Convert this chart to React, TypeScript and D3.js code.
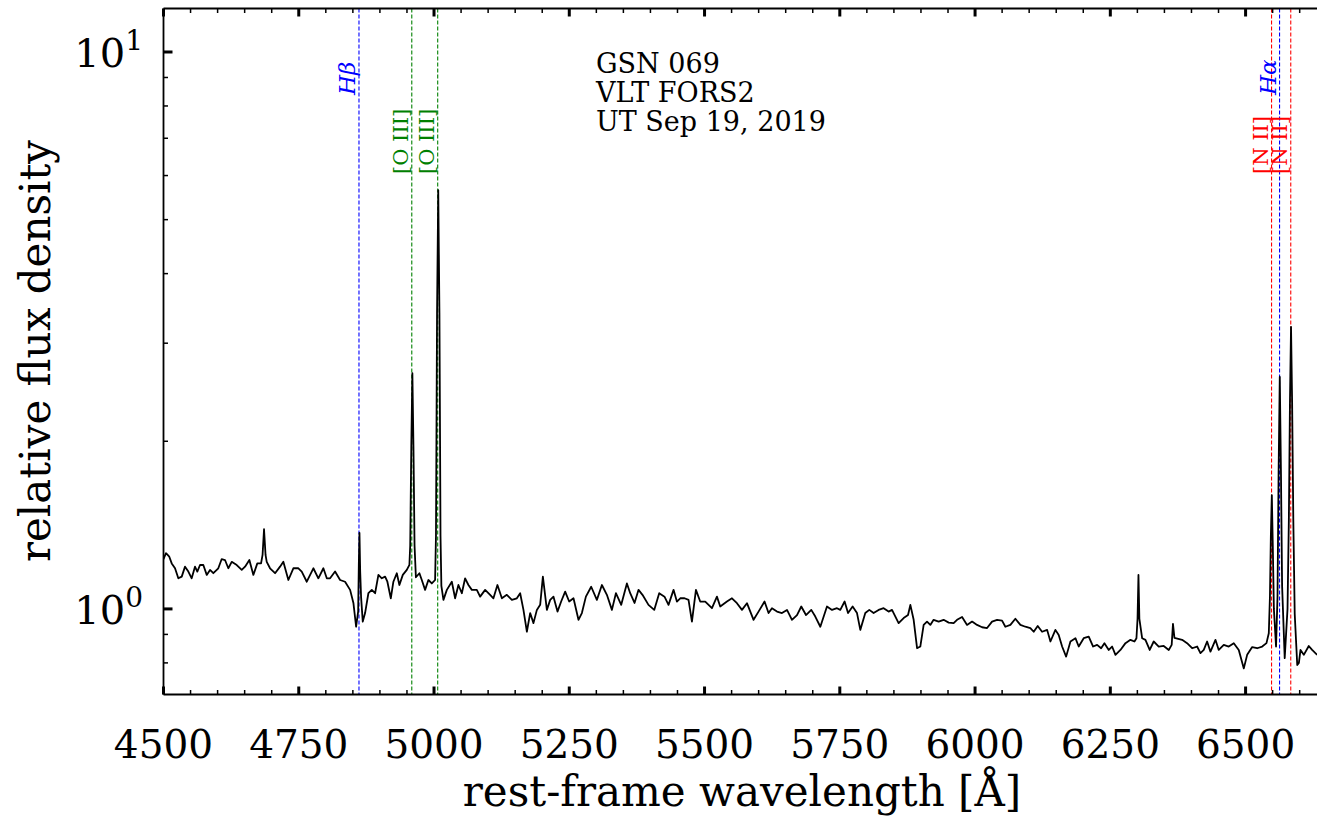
import React from "react";
import * as d3 from "d3";

// ---- data ----
const spectrum: [number, number][] = [
  [4500, 1.229], [4504.6, 1.259], [4510.7, 1.241], [4515.2, 1.207], [4521.3, 1.183], [4527.4, 1.135],
  [4533.7, 1.143], [4539.8, 1.191], [4545.9, 1.167], [4552.1, 1.135], [4558.2, 1.191], [4562.5, 1.167],
  [4567.5, 1.199], [4573.6, 1.199], [4579.9, 1.151], [4586.0, 1.175], [4592.1, 1.159], [4601.3, 1.183],
  [4607.6, 1.229], [4613.7, 1.224], [4619.8, 1.183], [4626.1, 1.215], [4635.4, 1.199], [4644.6, 1.175],
  [4650.7, 1.191], [4658.7, 1.224], [4666.1, 1.151], [4673.4, 1.207], [4680.3, 1.207], [4683.1, 1.25],
  [4685.8, 1.39], [4688.6, 1.25], [4690.8, 1.215], [4696.9, 1.183], [4706.2, 1.159], [4715.4, 1.191],
  [4721.5, 1.215], [4730.8, 1.127], [4740.0, 1.183], [4749.3, 1.183], [4755.5, 1.167], [4764.8, 1.119],
  [4777.0, 1.183], [4786.2, 1.135], [4795.5, 1.183], [4801.8, 1.135], [4807.9, 1.135], [4817.1, 1.167],
  [4826.4, 1.127], [4835.6, 1.119], [4844.9, 1.082], [4851.0, 1.025], [4856.0, 0.929], [4859.8, 0.99],
  [4861.0, 1.2], [4862.2, 1.37], [4863.5, 1.17], [4865.2, 1.05], [4868.3, 0.949], [4872.6, 0.983],
  [4878.7, 1.067], [4885.0, 1.082], [4891.1, 1.067], [4897.2, 1.151], [4903.5, 1.135], [4909.6, 1.143],
  [4913.8, 1.119], [4920.1, 1.045], [4924.9, 1.119], [4931.2, 1.159], [4936.0, 1.104], [4942.3, 1.151],
  [4949.7, 1.175], [4954.5, 1.2], [4956.0, 1.3], [4958.0, 1.95], [4960.0, 2.65], [4962.0, 1.95],
  [4964.0, 1.3], [4966.5, 1.14], [4973.0, 1.159], [4977.4, 1.127], [4983.5, 1.082], [4989.6, 1.127],
  [4995.9, 1.111], [5002.0, 1.127], [5003.6, 1.35], [5005.6, 3.4], [5007.8, 5.65], [5010.0, 3.4],
  [5012.0, 1.35], [5013.6, 1.1], [5017.4, 1.038], [5023.7, 1.082], [5032.9, 1.119], [5039.0, 1.045],
  [5045.1, 1.104], [5051.4, 1.067], [5057.5, 1.135], [5063.6, 1.104], [5069.9, 1.082], [5079.1, 1.082],
  [5085.2, 1.052], [5094.5, 1.082], [5103.7, 1.06], [5109.8, 1.045], [5117.2, 1.104], [5125.4, 1.045],
  [5134.6, 1.06], [5143.9, 1.038], [5153.1, 1.045], [5159.2, 1.067], [5165.3, 0.996], [5171.6, 0.91],
  [5177.7, 0.983], [5183.8, 0.943], [5190.1, 0.996], [5196.2, 1.017], [5201.2, 1.143], [5208.6, 0.996],
  [5214.7, 1.038], [5220.8, 1.052], [5228.2, 0.989], [5235.0, 1.031], [5242.4, 1.074], [5249.8, 1.031],
  [5257.8, 1.045], [5267.0, 0.956], [5273.3, 0.983], [5280.7, 1.052], [5290.5, 1.096], [5301.0, 1.038],
  [5310.3, 1.104], [5319.5, 1.06], [5328.8, 0.996], [5336.2, 1.067], [5346.0, 1.017], [5356.5, 1.111],
  [5362.6, 1.067], [5370.6, 1.025], [5378.0, 1.082], [5385.3, 1.06], [5396.4, 1.017], [5407.0, 0.996],
  [5416.2, 1.067], [5426.0, 1.052], [5433.4, 1.017], [5442.7, 1.082], [5448.9, 1.031], [5455.1, 1.045],
  [5463.0, 1.045], [5470.4, 1.038], [5476.7, 0.949], [5484.1, 1.082], [5492.0, 1.031], [5501.3, 1.031],
  [5513.7, 1.003], [5522.9, 1.052], [5529.0, 1.01], [5541.4, 1.031], [5550.7, 1.045], [5559.9, 1.024],
  [5569.2, 0.996], [5578.4, 1.024], [5590.6, 0.956], [5599.8, 0.989], [5610.9, 1.031], [5618.3, 0.983],
  [5624.6, 1.003], [5633.9, 0.989], [5643.1, 0.983], [5652.4, 0.996], [5661.6, 0.956], [5670.9, 0.975],
  [5678.8, 1.01], [5687.5, 0.975], [5697.3, 0.996], [5704.7, 0.969], [5714.0, 0.929], [5726.3, 1.01],
  [5735.6, 0.996], [5744.8, 1.003], [5750.9, 0.996], [5758.9, 1.031], [5765.2, 0.983], [5773.7, 1.01],
  [5781.8, 0.983], [5787.9, 0.917], [5797.1, 0.983], [5804.5, 0.996], [5812.5, 0.983], [5821.7, 0.996],
  [5831.0, 1.003], [5840.2, 0.989], [5846.5, 0.996], [5858.7, 0.943], [5868.0, 0.963], [5876.1, 0.975],
  [5880.4, 1.017], [5886.5, 0.956], [5892.8, 0.85], [5898.8, 0.856], [5905.0, 0.936], [5911.2, 0.949],
  [5917.3, 0.936], [5923.4, 0.956], [5932.7, 0.949], [5941.9, 0.956], [5951.2, 0.945], [5960.4, 0.943],
  [5966.7, 0.956], [5976.0, 0.967], [5985.2, 0.936], [5994.5, 0.949], [6003.7, 0.936], [6013.0, 0.927],
  [6022.2, 0.924], [6031.4, 0.949], [6040.7, 0.956], [6049.9, 0.953], [6056.0, 0.929], [6065.3, 0.936],
  [6074.5, 0.96], [6083.8, 0.936], [6093.0, 0.929], [6102.2, 0.924], [6108.4, 0.91], [6115.8, 0.932],
  [6123.9, 0.91], [6133.2, 0.917], [6139.3, 0.874], [6148.5, 0.917], [6154.6, 0.898], [6160.9, 0.856],
  [6168.3, 0.821], [6176.3, 0.874], [6185.5, 0.886], [6191.6, 0.856], [6200.8, 0.886], [6210.1, 0.892],
  [6218.2, 0.856], [6225.6, 0.862], [6233.0, 0.85], [6239.1, 0.868], [6247.1, 0.844], [6253.3, 0.856],
  [6259.5, 0.827], [6268.7, 0.844], [6278.0, 0.868], [6287.2, 0.88], [6294.6, 0.874], [6298.3, 0.886],
  [6300.3, 0.96], [6302.0, 1.151], [6303.7, 0.96], [6308.8, 0.886], [6314.9, 0.88], [6322.8, 0.844],
  [6330.2, 0.874], [6339.5, 0.856], [6348.7, 0.858], [6358.0, 0.844], [6363.4, 0.862], [6365.8, 0.94],
  [6368.5, 0.887], [6382.7, 0.88], [6391.9, 0.868], [6401.2, 0.85], [6410.4, 0.856], [6416.6, 0.833],
  [6422.7, 0.844], [6428.9, 0.874], [6435.1, 0.838], [6444.3, 0.88], [6450.4, 0.844], [6459.7, 0.862],
  [6468.9, 0.856], [6478.2, 0.868], [6487.4, 0.844], [6496.7, 0.782], [6502.9, 0.827], [6512.2, 0.854],
  [6521.4, 0.85], [6530.7, 0.856], [6538.6, 0.868], [6542.9, 0.904], [6545.0, 1.05], [6546.7, 1.35],
  [6548.5, 1.6], [6550.3, 1.3], [6552.3, 1.0], [6556.3, 0.856], [6559.0, 1.05], [6561.0, 1.75],
  [6563.2, 2.61], [6565.4, 1.75], [6567.5, 1.1], [6572.3, 0.816], [6577.5, 1.0], [6580.0, 1.45],
  [6582.0, 2.35], [6584.0, 3.21], [6586.0, 2.35], [6588.2, 1.45], [6590.8, 0.98], [6595.5, 0.793],
  [6598.5, 0.8], [6601.5, 0.844], [6607.6, 0.827], [6616.8, 0.858], [6623.0, 0.844], [6632.3, 0.827],
];

const lineNames = ["Hβ", "[O III]", "[O III]", "[N II]", "Hα", "[N II]"];
const lineWaves = [4861.3, 4958.9, 5006.8, 6548.0, 6562.8, 6583.5];
const lineColors = ["#0000ff", "#008000", "#008000", "#ff0000", "#0000ff", "#ff0000"];
const lineItalic = [true, false, false, false, true, false];

const xMajorTicks = [4500, 4750, 5000, 5250, 5500, 5750, 6000, 6250, 6500];
const yMajorTicks = [1, 10];
const yMajorExp = ["0", "1"];
const infoLines = ["GSN 069", "VLT FORS2", "UT Sep 19, 2019"];
const xTitle = "rest-frame wavelength [Å]";
const yTitle = "relative flux density";

// ---- layout ----
const W = 1317;
const H = 819;
const left = 163.5;
const right = 1317;
const top = 8.5;
const bottom = 694.5;
const FONT = "'DejaVu Serif', serif";

export default function App() {
  const x = d3.scaleLinear().domain([4500, 6632]).range([left, right]);
  const y = d3.scaleLog().domain([0.702, 11.97]).range([bottom, top]);
  const line = d3
    .line<[number, number]>()
    .x((d) => x(d[0]))
    .y((d) => y(d[1]));

  const xMinor = d3.range(4500, 6650, 50).filter((v) => v % 250 !== 0);
  const yMinor = [0.8, 0.9, 2, 3, 4, 5, 6, 7, 8, 9];

  return (
    <svg
      width={W}
      height={H}
      style={{ position: "absolute", left: 0, top: 0, background: "#fff" }}
      fontFamily={FONT}
    >
      <rect x={0} y={0} width={W} height={H} fill="#fff" />
      <defs>
        <clipPath id="plotclip">
          <rect x={left} y={top} width={right - left + 5} height={bottom - top} />
        </clipPath>
      </defs>

      {/* emission line markers */}
      <g clipPath="url(#plotclip)">
        {lineWaves.map((w, i) => (
          <line
            key={"l" + i}
            x1={x(w)}
            x2={x(w)}
            y1={top}
            y2={bottom}
            stroke={lineColors[i]}
            strokeWidth={1.1}
            strokeDasharray="4,2"
          />
        ))}
        <path d={line(spectrum) || ""} fill="none" stroke="#000" strokeWidth={1.8} strokeLinejoin="round" />
      </g>

      {/* line labels */}
      {lineWaves.map((w, i) => {
        const lx = x(w) - 4;
        const ly = lineItalic[i] ? 95 : 174;
        return (
          <text
            key={"t" + i}
            x={lx}
            y={ly}
            transform={`rotate(-90 ${lx} ${ly})`}
            fill={lineColors[i]}
            fontSize={lineItalic[i] ? 23 : 21}
            fontStyle={lineItalic[i] ? "italic" : "normal"}
            textAnchor="start"
          >
            {lineNames[i]}
          </text>
        );
      })}

      {/* spines */}
      <g stroke="#000" strokeWidth={1.8} fill="none">
        <line x1={left} x2={left} y1={top} y2={bottom} />
        <line x1={left} x2={right + 5} y1={top} y2={top} />
        <line x1={left} x2={right + 5} y1={bottom} y2={bottom} />
      </g>

      {/* ticks */}
      <g stroke="#000">
        {xMajorTicks.map((v) => (
          <g key={"xm" + v}>
            <line x1={x(v)} x2={x(v)} y1={bottom} y2={bottom - 8} strokeWidth={3} />
            <line x1={x(v)} x2={x(v)} y1={top} y2={top + 8} strokeWidth={3} />
          </g>
        ))}
        {xMinor.map((v) => (
          <g key={"xn" + v}>
            <line x1={x(v)} x2={x(v)} y1={bottom} y2={bottom - 4.5} strokeWidth={1.5} />
            <line x1={x(v)} x2={x(v)} y1={top} y2={top + 4.5} strokeWidth={1.5} />
          </g>
        ))}
        {yMajorTicks.map((v) => (
          <line key={"ym" + v} x1={left} x2={left + 9} y1={y(v)} y2={y(v)} strokeWidth={3} />
        ))}
        {yMinor.map((v) => (
          <line key={"yn" + v} x1={left} x2={left + 4.5} y1={y(v)} y2={y(v)} strokeWidth={1.5} />
        ))}
      </g>

      {/* x tick labels */}
      {xMajorTicks.map((v) => (
        <text key={"xl" + v} x={x(v)} y={758} fontSize={39} textAnchor="middle" fill="#000">
          {v}
        </text>
      ))}

      {/* y tick labels */}
      {yMajorTicks.map((v, i) => (
        <text key={"yl" + v} x={143} y={y(v) + 15} fontSize={40} textAnchor="end" fill="#000">
          <tspan>10</tspan>
          <tspan dy={-17} fontSize={28}>
            {yMajorExp[i]}
          </tspan>
        </text>
      ))}

      {/* axis titles */}
      <text x={742} y={806} fontSize={42} textAnchor="middle" fill="#000">
        {xTitle}
      </text>
      <text
        x={50}
        y={351}
        fontSize={42}
        textAnchor="middle"
        transform="rotate(-90 50 351)"
        fill="#000"
      >
        {yTitle}
      </text>

      {/* info text */}
      {infoLines.map((s, i) => (
        <text key={"info" + i} x={596} y={73 + i * 29} fontSize={27} fill="#000">
          {s}
        </text>
      ))}
    </svg>
  );
}
